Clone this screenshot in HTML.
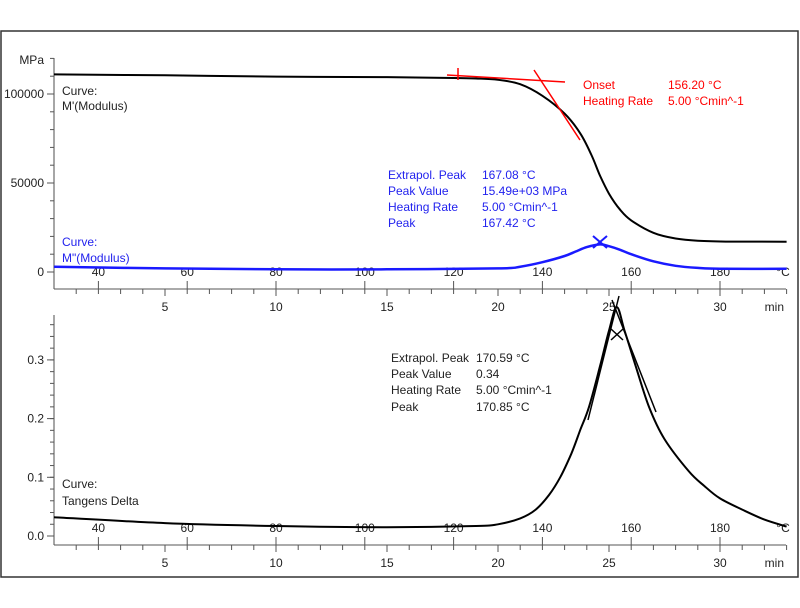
<!DOCTYPE html>
<html><head><meta charset="utf-8">
<style>
html,body{margin:0;padding:0;background:#fff;}
svg{display:block;font-family:"Liberation Sans","DejaVu Sans",sans-serif;}
</style></head>
<body>
<svg id="chart" width="800" height="608" viewBox="0 0 800 608">
<rect x="1" y="31" width="797" height="546" fill="#fff" stroke="#333" stroke-width="1.5"/>
<g id="g"></g>
</svg>
<script>
// ---- data (time in minutes) ----
const mpTime = [0,5,10,15,18,19,20,21,22,23,23.7,24.2,24.6,25,25.5,26,27,28,29,30.5,33];
const mpValue = [111000,110500,109800,109500,109000,108700,108000,105500,99000,89000,78000,66000,54000,44000,35000,29000,22000,18800,17600,17100,17000];
const mppTime = [0,5,10,15,20,21,22,23,23.5,24,24.6,25,25.5,26,27,28,29,30,33];
const mppValue = [3000,2000,1500,1500,2000,3000,5500,9000,11500,14000,15500,14500,12500,10000,6000,3500,2300,1800,1800];
const tdTime = [0,5,10,15,19,20,21,21.7,22.3,22.8,23.3,23.7,24.1,24.6,25.0,25.35,25.7,26.2,26.8,27.5,28.6,29.3,30,31,32,33];
const tdValue = [0.032,0.022,0.017,0.015,0.017,0.02,0.03,0.045,0.07,0.10,0.14,0.18,0.22,0.29,0.35,0.39,0.35,0.29,0.22,0.165,0.11,0.085,0.064,0.045,0.028,0.016];
const timeTicks = [5,10,15,20,25,30];
const tempTicks = [40,60,80,100,120,140,160,180];
const topTicks = [0,50000,100000];
const botTicks = [0.0,0.1,0.2,0.3];

const NS='http://www.w3.org/2000/svg';
const g=document.getElementById('g');
const X0=54, PX=22.2;
const xT=m=>X0+PX*m;
const xTemp=t=>X0+PX*(t-30)/5;
const yTop=v=>272-v*(89/50000);
const yBot=v=>536-v*587;
function mk(tag,attrs,name,text){
  const e=document.createElementNS(NS,tag);
  for(const k in attrs)e.setAttribute(k,attrs[k]);
  
  
  if(text!==undefined)e.textContent=text;
  g.appendChild(e);return e;
}
function txt(x,y,s,fill,size,anchor,name){
  return mk('text',{x:x,y:y,fill:fill||'#222','font-size':size||12,'text-anchor':anchor||'start'},name,s);
}
function line(x1,y1,x2,y2,stroke,w,name){
  return mk('line',{x1:x1,y1:y1,x2:x2,y2:y2,stroke:stroke,'stroke-width':w||1},name);
}
function panel(yAxisTop,yAxisBot,timeY,yfn,ticks,fmt,minorStep,minorMax,unit){
  line(X0,yAxisTop,X0,yAxisBot,'#888',1.5,'y-axis');
  for(let v=0;v<=minorMax+1e-9;v+=minorStep){
    const y=yfn(v); if(y<yAxisTop)continue;
    line(X0-4,y,X0,y,'#555',1,'y-minor-tick');
  }
  ticks.forEach(v=>{const y=yfn(v);line(X0-7,y,X0,y,'#555',1,'y-major-tick');txt(X0-10,y+4,fmt(v),'#222',12,'end','y-tick-label');});
  if(unit)txt(X0-10,yAxisTop+6,unit,'#222',12,'end','y-unit-label');
  line(X0,timeY,786,timeY,'#555',1,'time-axis');
  for(let m=1;m<=33;m++){const x=xT(m);line(x,timeY,x,timeY+(m%5===0?7:5),'#555',1,'time-tick');}
  timeTicks.forEach(m=>txt(xT(m),timeY+22,String(m),'#222',12,'middle','time-tick-label'));
  txt(784,timeY+22,'min','#222',12,'end','time-unit-label');
  tempTicks.forEach(t=>{const x=xTemp(t);line(x,timeY-8,x,timeY,'#555',1,'temp-tick');txt(x,timeY-13,String(t),'#222',12,'middle','temp-tick-label');});
  txt(783,timeY-13,'°C','#222',12,'middle','temp-unit-label');
}
function path(ts,vs,yfn,stroke,w,name){
  const P=ts.map((t,i)=>[xT(t),yfn(vs[i])]);
  let d='M'+P[0][0].toFixed(1)+','+P[0][1].toFixed(1);
  for(let i=0;i<P.length-1;i++){
    const p0=P[Math.max(0,i-1)],p1=P[i],p2=P[i+1],p3=P[Math.min(P.length-1,i+2)];
    const c1=[p1[0]+(p2[0]-p0[0])/6,p1[1]+(p2[1]-p0[1])/6];
    const c2=[p2[0]-(p3[0]-p1[0])/6,p2[1]-(p3[1]-p1[1])/6];
    d+='C'+c1[0].toFixed(1)+','+c1[1].toFixed(1)+' '+c2[0].toFixed(1)+','+c2[1].toFixed(1)+' '+p2[0].toFixed(1)+','+p2[1].toFixed(1);
  }
  return mk('path',{d:d,fill:'none',stroke:stroke,'stroke-width':w,'stroke-linejoin':'round'},name);
}
// top panel
panel(58,289,289,yTop,topTicks,v=>String(v),10000,120000,'MPa');
path(mpTime,mpValue,yTop,'#000',2,'m-prime-curve');
path(mppTime,mppValue,yTop,'#1a1aff',2.5,'m-double-prime-curve');
// onset annotation
line(447,75,565,82,'#f00',1.5,'onset-tangent-1');
line(534,70,580,140,'#f00',1.5,'onset-tangent-2');
line(458,68,458,80,'#f00',1.5,'onset-marker');
txt(583,89,'Onset','#f00',12,'start','onset-label');
txt(668,89,'156.20 °C','#f00',12,'start','onset-value');
txt(583,105,'Heating Rate','#f00',12,'start','heating-rate-label-red');
txt(668,105,'5.00 °Cmin^-1','#f00',12,'start','heating-rate-value-red');
// M'' peak marker
line(593,236,607,248,'#1a1aff',2,'mpp-peak-x1');line(593,248,607,236,'#1a1aff',2,'mpp-peak-x2');
[['Extrapol. Peak','167.08 °C',179],['Peak Value','15.49e+03 MPa',195],['Heating Rate','5.00 °Cmin^-1',211],['Peak','167.42 °C',227]].forEach(r=>{
  txt(388,r[2],r[0],'#2222ee',12,'start','mpp-result-label');txt(482,r[2],r[1],'#2222ee',12,'start','mpp-result-value');});
txt(62,95,'Curve:','#222',12,'start','curve-label-mp');
txt(62,110,"M'(Modulus)",'#222',12,'start','curve-name-mp');
txt(62,246,'Curve:','#2222ee',12,'start','curve-label-mpp');
txt(62,262,'M"(Modulus)','#2222ee',12,'start','curve-name-mpp');
// bottom panel
panel(315,545,545,yBot,botTicks,v=>v.toFixed(1),0.02,0.36,null);
path(tdTime,tdValue,yBot,'#000',2,'tan-delta-curve');
line(588,420,619,296,'#000',1.5,'td-tangent-left');
line(612,300,656,412,'#000',1.5,'td-tangent-right');
line(611,329,623,340,'#000',1.5,'td-peak-x1');line(611,340,623,329,'#000',1.5,'td-peak-x2');
[['Extrapol. Peak','170.59 °C',362],['Peak Value','0.34',378],['Heating Rate','5.00 °Cmin^-1',394],['Peak','170.85 °C',411]].forEach(r=>{
  txt(391,r[2],r[0],'#222',12,'start','td-result-label');txt(476,r[2],r[1],'#222',12,'start','td-result-value');});
txt(62,488,'Curve:','#222',12,'start','curve-label-td');
txt(62,505,'Tangens Delta','#222',12,'start','curve-name-td');
</script>
</body></html>
